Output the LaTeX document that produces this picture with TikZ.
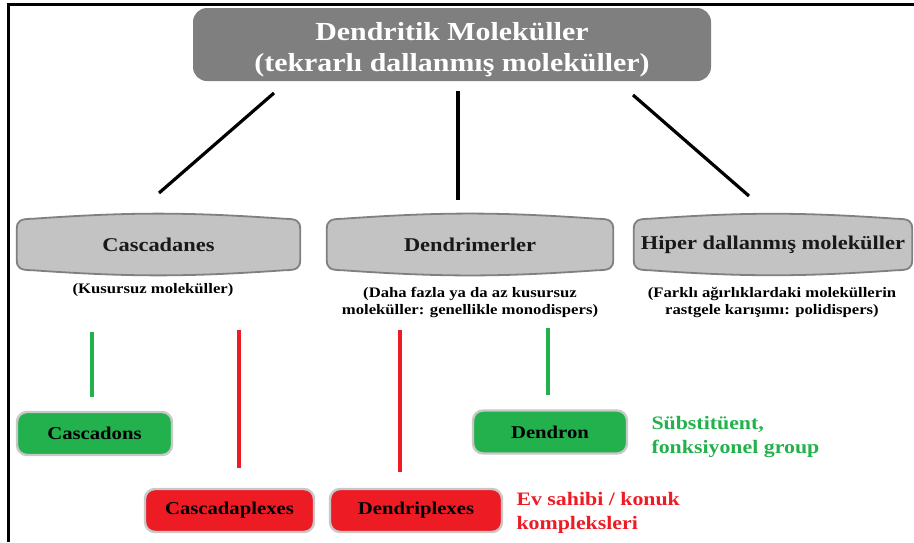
\documentclass[tikz,border=0pt]{standalone}
\usepackage{fontspec}
\setmainfont{Liberation Serif}[FakeStretch=1.15]
\usepackage{xcolor}
\usetikzlibrary{calc,backgrounds}
\definecolor{titlegray}{HTML}{7F7F7F}
\definecolor{capfill}{HTML}{C3C3C3}
\definecolor{capedge}{HTML}{808080}
\definecolor{pale}{HTML}{C8C8C8}
\definecolor{green}{HTML}{22B14C}
\definecolor{red}{HTML}{ED1C24}
\tikzset{
  headbox/.style={fill=titlegray, rounded corners=14pt, minimum width=518pt, minimum height=72pt,
    inner ysep=0pt, text=white, font=\bfseries\fontsize{26}{31}\selectfont},
  capbox/.style={minimum height=61pt, text=black!90, font=\bfseries\fontsize{19.5}{22}\selectfont},
  capline/.style={draw=capedge, fill=capfill, line width=1.8pt},
  note/.style={align=center, font=\bfseries\fontsize{14.5}{17}\selectfont},
  leaf/.style={draw=pale, rounded corners=10pt, line width=2.4pt, minimum height=43pt,
    font=\bfseries\fontsize{18}{21}\selectfont},
  tie/.style={line width=3.2pt},
  side/.style={anchor=west, align=left, font=\bfseries\fontsize{19}{24}\selectfont}
}

\begin{document}
\begin{tikzpicture}[x=1pt,y=-1pt]
  \useasboundingbox (0,0) rectangle (914,542);
  \draw[line width=3pt] (8,542) -- (8,4) -- (914,4);

  \node[headbox] (top) at (452,44.5)
    {\raisebox{0pt}[\dimexpr\height+11pt][\depth]{\begin{tabular}{@{}c@{}}Dendritik Moleküller\\(tekrarlı dallanmış moleküller)\end{tabular}}};

  \node[capbox, minimum width=283pt] (casc) at (158.5,244.5) {Cascadanes};
  \node[capbox, minimum width=286pt] (dend) at (470,244.5) {Dendrimerler};
  \node[capbox, minimum width=278pt] (hiper) at (773,244.5) {Hiper dallanmış moleküller};
  \begin{scope}[on background layer]
    \foreach \n in {casc,dend,hiper}
      \draw[capline] ([yshift=-15pt]\n.north west) -- ([yshift=15pt]\n.south west)
        .. controls ([yshift=7pt]\n.south west) and ([xshift=4pt,yshift=5pt]\n.south west) .. ([xshift=15pt,yshift=5pt]\n.south west)
        to[bend right=4] ([xshift=-15pt,yshift=5pt]\n.south east)
        .. controls ([xshift=-4pt,yshift=5pt]\n.south east) and ([yshift=7pt]\n.south east) .. ([yshift=15pt]\n.south east)
        -- ([yshift=-15pt]\n.north east)
        .. controls ([yshift=-7pt]\n.north east) and ([xshift=-4pt,yshift=-5pt]\n.north east) .. ([xshift=-15pt,yshift=-5pt]\n.north east)
        to[bend right=4] ([xshift=15pt,yshift=-5pt]\n.north west)
        .. controls ([xshift=4pt,yshift=-5pt]\n.north west) and ([yshift=-7pt]\n.north west) .. ([yshift=-15pt]\n.north west) -- cycle;
  \end{scope}

  \node[note] (cascnote) at (153,290) {(Kusursuz moleküller)};
  \node[note] (dendnote) at (470,302.5) {(Daha fazla ya da az kusursuz\\moleküller: genellikle monodispers)};
  \node[note] (hipernote) at (772,302.5) {(Farklı ağırlıklardaki moleküllerin\\rastgele karışımı: polidispers)};

  \node[leaf, fill=green, minimum width=155pt] (cascadons) at (94.5,433.5) {Cascadons};
  \node[leaf, fill=red, minimum width=169pt] (cascaplex) at (229.5,510.5) {Cascadaplexes};
  \node[leaf, fill=red, minimum width=172pt] (dendriplex) at (416,510.5) {Dendriplexes};
  \node[leaf, fill=green, minimum width=154pt] (dendron) at (550,432) {Dendron};

  \node[side, text=green] (subst) at (648,437) {Sübstitüent,\\fonksiyonel group};
  \node[side, text=red] (host) at (513,513) {Ev sahibi / konuk\\kompleksleri};

  % loose branch strokes
  \coordinate (b1) at (274,93);  \coordinate (e1) at (159,193);
  \coordinate (b2) at (458,91);  \coordinate (e2) at (458,200);
  \coordinate (b3) at (633,95);  \coordinate (e3) at (749,196);
  \draw[tie] (b1) -- (e1);
  \draw[tie] (b2) -- (e2);
  \draw[tie] (b3) -- (e3);

  \coordinate (g1) at (92,332);  \coordinate (h1) at (92,397);
  \coordinate (g2) at (548,328); \coordinate (h2) at (548,395);
  \coordinate (r1) at (239,330); \coordinate (s1) at (239,468);
  \coordinate (r2) at (400,330); \coordinate (s2) at (400,472);
  \draw[tie, green] (g1) -- (h1);
  \draw[tie, green] (g2) -- (h2);
  \draw[tie, red] (r1) -- (s1);
  \draw[tie, red] (r2) -- (s2);
\end{tikzpicture}
\end{document}
